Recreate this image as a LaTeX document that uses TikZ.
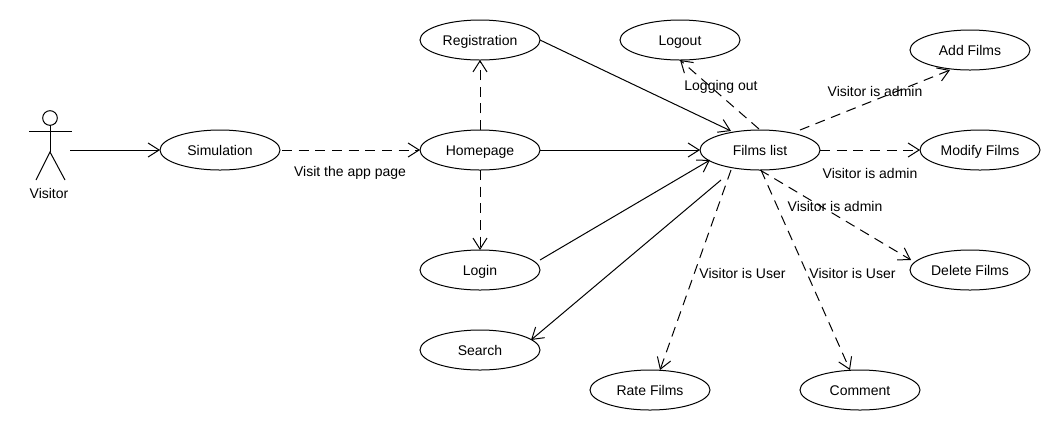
\documentclass[tikz,border=0pt]{standalone}
\usepackage{fontspec}
\setmainfont{Liberation Sans}
\usetikzlibrary{arrows.meta,shapes.geometric}
\tikzset{
  usecase/.style={draw,ellipse,minimum width=90pt,minimum height=30pt,inner sep=0pt,outer sep=0pt,text height=9.7pt,text depth=1pt,font=\fontsize{10.5pt}{12pt}\selectfont,line width=0.75pt},
  solidline/.style={line width=0.75pt,-{Straight Barb[length=8.25pt,width=10.5pt,line width=0.75pt]}},
  dashline/.style={solidline,dash pattern=on 7.5pt off 5pt},
  lbl/.style={inner sep=0pt,font=\fontsize{10.5pt}{12pt}\selectfont},
  stick/.style={line width=0.75pt}
}
\begin{document}
\begin{tikzpicture}[x=0.75pt,y=-0.75pt]
\useasboundingbox (0,0) rectangle (1060,430);
\node[usecase] (sim) at (220,150) {Simulation};
\node[usecase] (reg) at (480,40) {Registration};
\node[usecase] (logout) at (680,40) {Logout};
\node[usecase] (add) at (970,50) {Add Films};
\node[usecase] (home) at (480,150) {Homepage};
\node[usecase] (films) at (760,150) {Films list};
\node[usecase] (modify) at (980,150) {Modify Films};
\node[usecase] (login) at (480,270) {Login};
\node[usecase] (delete) at (970,270) {Delete Films};
\node[usecase] (search) at (480,350) {Search};
\node[usecase] (rate) at (650,390) {Rate Films};
\node[usecase] (comment) at (860,390) {Comment};
% actor
\node[draw,circle,minimum size=11pt,inner sep=0pt,outer sep=0pt,line width=0.75pt] (head) at (50,118) {};
\coordinate (hip) at (50,152);
\coordinate (armL) at (29,131);
\coordinate (armR) at (72,131);
\coordinate (footL) at (36,180);
\coordinate (footR) at (65,180);
\coordinate (actorout) at (70,150);
\draw[stick] (head.south) -- (hip);
\draw[stick] (armL) -- (armR);
\draw[stick] (footL) -- (hip) -- (footR);
\node[lbl] (visitor) at (49,193) {Visitor};
% connectors
\draw[solidline] (actorout) -- (sim.west);
\draw[dashline] ([shift={(62,0)}]sim.center) -- (home.west);
\draw[dashline] (home.north) -- (reg.south);
\draw[dashline] (home.south) -- (login.north);
\draw[solidline] (reg.east) -- ([shift={(-29,-19)}]films.center);
\draw[solidline] (home.east) -- (films.west);
\draw[solidline] ([shift={(60,-10)}]login.center) -- ([shift={(-50,10)}]films.center);
\draw[solidline] ([shift={(-39,30)}]films.center) -- ([shift={(51,-10)}]search.center);
\draw[dashline] ([shift={(-29,20)}]films.center) -- ([shift={(10,-20)}]rate.center);
\draw[dashline] ([shift={(1,20)}]films.center) -- ([shift={(-10,-20)}]comment.center);
\draw[dashline] ([shift={(0,20)}]films.center) -- ([shift={(-59,-10)}]delete.center);
\draw[dashline] ([shift={(-1,-21)}]films.center) -- (logout.south);
\draw[dashline] ([shift={(40,-20)}]films.center) -- ([shift={(-20,20)}]add.center);
\draw[dashline] (films.east) -- (modify.west);
% labels
\node[lbl] (l1) at (350,173) {Visit the app page};
\node[lbl] (l2) at (721,87) {Logging out};
\node[lbl] (l3) at (875,91) {Visitor is admin};
\node[lbl] (l4) at (870,173) {Visitor is admin};
\node[lbl] (l5) at (835,206) {Visitor is admin};
\node[lbl] (l6) at (742.5,273) {Visitor is User};
\node[lbl] (l7) at (852.5,273) {Visitor is User};
\end{tikzpicture}
\end{document}
